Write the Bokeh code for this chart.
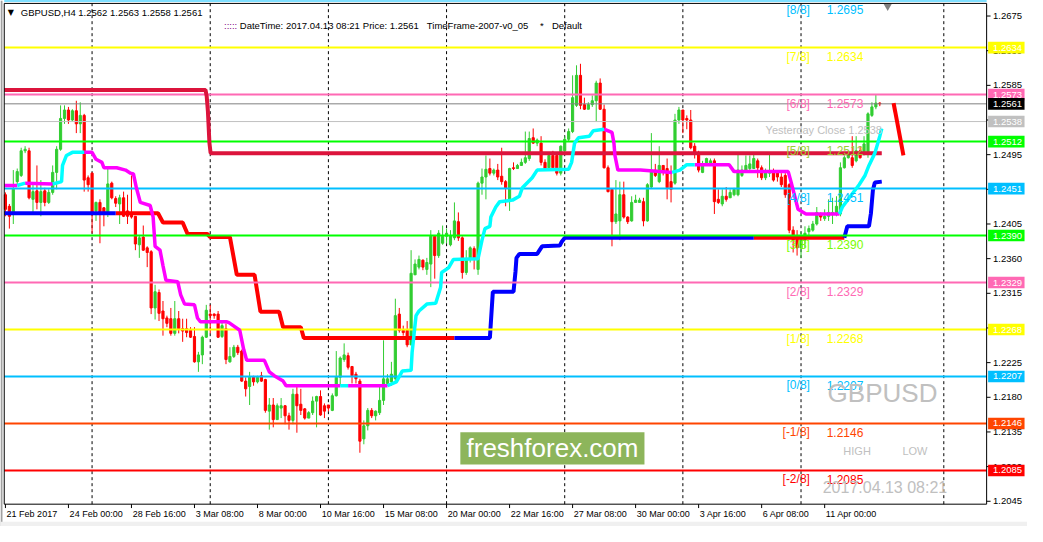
from bokeh.plotting import figure
from bokeh.models import Range1d
from bokeh.core.properties import value
from bokeh.embed import file_html
from bokeh.resources import INLINE

# ---------------- data (H4 bars, 21 Feb 2017 08:00 .. 13 Apr 2017 08:00) ----------------
bar_open = [
 1.2443,1.2428,1.2418,1.2460,1.2468,1.2500,1.2500,1.2437,1.2448,1.2433,
 1.2448,1.2433,1.2446,1.2472,1.2502,1.2542,1.2553,1.2540,1.2552,1.2535,
 1.2546,1.2465,1.2471,1.2422,1.2433,1.2426,1.2420,1.2458,1.2438,1.2431,
 1.2439,1.2422,1.2420,1.2415,1.2378,1.2388,1.2374,1.2369,1.2296,1.2316,
 1.2292,1.2283,1.2282,1.2263,1.2282,1.2269,1.2269,1.2267,1.2259,1.2226,
 1.2235,1.2258,1.2288,1.2288,1.2288,1.2259,1.2269,1.2226,1.2233,1.2245,
 1.2240,1.2201,1.2194,1.2206,1.2200,1.2208,1.2203,1.2162,1.2170,1.2151,
 1.2166,1.2169,1.2156,1.2150,1.2184,1.2171,1.2165,1.2153,1.2160,1.2175,
 1.2181,1.2169,1.2170,1.2163,1.2182,1.2206,1.2229,1.2234,1.2220,1.2210,
 1.2201,1.2126,1.2143,1.2163,1.2156,1.2160,1.2176,1.2198,1.2200,1.2204,
 1.2288,1.2267,1.2267,1.2248,1.2339,1.2349,1.2358,1.2346,1.2353,1.2389,
 1.2364,1.2380,1.2389,1.2378,1.2387,1.2408,1.2387,1.2342,1.2359,1.2373,
 1.2346,1.2458,1.2466,1.2477,1.2471,1.2475,1.2467,1.2460,1.2437,1.2478,
 1.2477,1.2481,1.2485,1.2490,1.2517,1.2510,1.2510,1.2485,1.2478,1.2494,
 1.2494,1.2471,1.2500,1.2515,1.2525,1.2559,1.2598,1.2560,1.2554,1.2560,
 1.2565,1.2588,1.2554,1.2478,1.2450,1.2408,1.2409,1.2443,1.2414,1.2409,
 1.2433,1.2433,1.2434,1.2409,1.2453,1.2475,1.2460,1.2481,1.2477,1.2460,
 1.2458,1.2540,1.2553,1.2542,1.2540,1.2506,1.2497,1.2472,1.2483,1.2483,
 1.2487,1.2437,1.2431,1.2441,1.2439,1.2443,1.2443,1.2468,1.2475,1.2477,
 1.2477,1.2487,1.2478,1.2465,1.2471,1.2473,1.2472,1.2466,1.2468,1.2456,
 1.2397,1.2387,1.2374,1.2384,1.2395,1.2397,1.2405,1.2418,1.2412,1.2415,
 1.2418,1.2418,1.2418,1.2478,1.2491,1.2491,1.2487,1.2500,1.2496,1.2496,
 1.2546,1.2557,1.2562]
bar_high = [
 1.2446,1.2431,1.2475,1.2477,1.2504,1.2506,1.2504,1.2456,1.2481,1.2462,
 1.2452,1.2450,1.2481,1.2506,1.2559,1.2559,1.2557,1.2554,1.2565,1.2563,
 1.2548,1.2468,1.2472,1.2434,1.2437,1.2427,1.2477,1.2460,1.2441,1.2443,
 1.2447,1.2443,1.2468,1.2415,1.2390,1.2403,1.2376,1.2371,1.2326,1.2320,
 1.2305,1.2286,1.2296,1.2305,1.2292,1.2282,1.2282,1.2271,1.2271,1.2239,
 1.2260,1.2300,1.2300,1.2289,1.2292,1.2277,1.2276,1.2245,1.2248,1.2248,
 1.2242,1.2206,1.2213,1.2208,1.2208,1.2213,1.2204,1.2179,1.2179,1.2172,
 1.2179,1.2170,1.2160,1.2191,1.2194,1.2191,1.2166,1.2162,1.2181,1.2182,
 1.2189,1.2172,1.2170,1.2185,1.2240,1.2233,1.2250,1.2238,1.2220,1.2213,
 1.2204,1.2150,1.2166,1.2166,1.2163,1.2195,1.2254,1.2210,1.2226,1.2308,
 1.2296,1.2273,1.2279,1.2371,1.2359,1.2364,1.2359,1.2361,1.2397,1.2390,
 1.2397,1.2403,1.2399,1.2397,1.2433,1.2420,1.2389,1.2371,1.2376,1.2376,
 1.2460,1.2477,1.2494,1.2490,1.2477,1.2483,1.2504,1.2462,1.2478,1.2485,
 1.2483,1.2490,1.2525,1.2525,1.2529,1.2516,1.2519,1.2489,1.2497,1.2500,
 1.2496,1.2507,1.2519,1.2529,1.2598,1.2611,1.2613,1.2569,1.2563,1.2572,
 1.2591,1.2594,1.2560,1.2481,1.2450,1.2462,1.2460,1.2460,1.2415,1.2441,
 1.2443,1.2439,1.2439,1.2458,1.2523,1.2483,1.2506,1.2481,1.2490,1.2481,
 1.2548,1.2557,1.2553,1.2546,1.2553,1.2510,1.2500,1.2487,1.2491,1.2490,
 1.2490,1.2450,1.2450,1.2453,1.2450,1.2452,1.2496,1.2481,1.2494,1.2494,
 1.2496,1.2490,1.2481,1.2477,1.2496,1.2477,1.2475,1.2471,1.2471,1.2458,
 1.2402,1.2397,1.2395,1.2402,1.2403,1.2409,1.2427,1.2420,1.2424,1.2437,
 1.2439,1.2441,1.2485,1.2494,1.2500,1.2519,1.2519,1.2506,1.2519,1.2550,
 1.2563,1.2573,1.2563]
bar_low = [
 1.2415,1.2399,1.2405,1.2456,1.2466,1.2497,1.2437,1.2420,1.2424,1.2415,
 1.2428,1.2431,1.2443,1.2450,1.2500,1.2535,1.2535,1.2538,1.2523,1.2523,
 1.2447,1.2447,1.2393,1.2409,1.2380,1.2402,1.2414,1.2437,1.2427,1.2405,
 1.2414,1.2405,1.2412,1.2371,1.2361,1.2370,1.2349,1.2288,1.2281,1.2279,
 1.2260,1.2271,1.2260,1.2260,1.2263,1.2252,1.2258,1.2257,1.2225,1.2213,
 1.2223,1.2257,1.2263,1.2282,1.2257,1.2257,1.2223,1.2225,1.2231,1.2235,
 1.2200,1.2181,1.2170,1.2195,1.2198,1.2200,1.2160,1.2138,1.2141,1.2151,
 1.2153,1.2145,1.2138,1.2145,1.2134,1.2157,1.2151,1.2153,1.2157,1.2141,
 1.2156,1.2153,1.2162,1.2162,1.2181,1.2195,1.2226,1.2216,1.2198,1.2198,
 1.2108,1.2119,1.2137,1.2153,1.2150,1.2157,1.2170,1.2195,1.2195,1.2200,
 1.2264,1.2260,1.2245,1.2248,1.2339,1.2346,1.2345,1.2339,1.2323,1.2334,
 1.2361,1.2378,1.2380,1.2376,1.2384,1.2383,1.2334,1.2339,1.2355,1.2346,
 1.2339,1.2443,1.2437,1.2468,1.2468,1.2462,1.2456,1.2428,1.2422,1.2475,
 1.2477,1.2481,1.2483,1.2487,1.2509,1.2506,1.2481,1.2475,1.2477,1.2477,
 1.2468,1.2468,1.2497,1.2512,1.2523,1.2557,1.2554,1.2553,1.2554,1.2557,
 1.2538,1.2553,1.2477,1.2446,1.2376,1.2405,1.2384,1.2412,1.2405,1.2408,
 1.2433,1.2433,1.2402,1.2408,1.2452,1.2466,1.2458,1.2468,1.2437,1.2433,
 1.2456,1.2535,1.2523,1.2528,1.2502,1.2490,1.2472,1.2471,1.2481,1.2481,
 1.2418,1.2431,1.2428,1.2434,1.2439,1.2441,1.2441,1.2466,1.2472,1.2475,
 1.2477,1.2465,1.2462,1.2462,1.2466,1.2460,1.2460,1.2453,1.2439,1.2393,
 1.2368,1.2364,1.2361,1.2374,1.2390,1.2395,1.2403,1.2409,1.2409,1.2409,
 1.2405,1.2415,1.2415,1.2477,1.2490,1.2478,1.2485,1.2490,1.2494,1.2491,
 1.2544,1.2554,1.2558]
bar_close = [
 1.2424,1.2415,1.2450,1.2473,1.2500,1.2502,1.2439,1.2447,1.2433,1.2447,
 1.2433,1.2446,1.2472,1.2502,1.2542,1.2553,1.2540,1.2552,1.2535,1.2546,
 1.2462,1.2456,1.2420,1.2433,1.2420,1.2420,1.2457,1.2439,1.2432,1.2439,
 1.2415,1.2415,1.2414,1.2379,1.2387,1.2371,1.2368,1.2296,1.2317,1.2289,
 1.2282,1.2276,1.2263,1.2282,1.2269,1.2266,1.2264,1.2258,1.2226,1.2235,
 1.2258,1.2293,1.2286,1.2286,1.2258,1.2273,1.2229,1.2233,1.2245,1.2238,
 1.2201,1.2191,1.2206,1.2200,1.2206,1.2201,1.2163,1.2170,1.2151,1.2169,
 1.2169,1.2156,1.2150,1.2184,1.2169,1.2163,1.2153,1.2160,1.2175,1.2181,
 1.2157,1.2162,1.2166,1.2182,1.2206,1.2231,1.2235,1.2219,1.2208,1.2204,
 1.2123,1.2143,1.2163,1.2156,1.2162,1.2176,1.2204,1.2204,1.2210,1.2286,
 1.2267,1.2264,1.2248,1.2341,1.2353,1.2359,1.2349,1.2355,1.2389,1.2364,
 1.2393,1.2389,1.2393,1.2390,1.2409,1.2387,1.2342,1.2359,1.2374,1.2359,
 1.2458,1.2466,1.2476,1.2471,1.2475,1.2466,1.2460,1.2452,1.2477,1.2477,
 1.2481,1.2485,1.2491,1.2516,1.2510,1.2514,1.2485,1.2477,1.2494,1.2478,
 1.2471,1.2506,1.2515,1.2525,1.2569,1.2598,1.2559,1.2554,1.2560,1.2565,
 1.2588,1.2554,1.2478,1.2447,1.2408,1.2418,1.2443,1.2414,1.2408,1.2433,
 1.2436,1.2436,1.2409,1.2456,1.2475,1.2468,1.2481,1.2472,1.2452,1.2450,
 1.2540,1.2553,1.2540,1.2540,1.2504,1.2497,1.2475,1.2483,1.2490,1.2487,
 1.2434,1.2433,1.2441,1.2437,1.2446,1.2450,1.2475,1.2475,1.2481,1.2483,
 1.2490,1.2478,1.2465,1.2472,1.2473,1.2462,1.2466,1.2456,1.2443,1.2397,
 1.2384,1.2374,1.2387,1.2393,1.2399,1.2405,1.2420,1.2414,1.2415,1.2420,
 1.2420,1.2428,1.2478,1.2491,1.2497,1.2481,1.2500,1.2491,1.2509,1.2548,
 1.2557,1.2562,1.2561]

date_ticks = [0, 16, 32, 48, 64, 80, 96, 112, 128, 144, 160, 176, 192, 208]
date_labels = ["21 Feb 2017", "24 Feb 00:00", "28 Feb 16:00", "3 Mar 08:00", "8 Mar 00:00",
               "10 Mar 16:00", "15 Mar 08:00", "20 Mar 00:00", "22 Mar 16:00", "27 Mar 08:00",
               "30 Mar 00:00", "3 Apr 16:00", "6 Apr 08:00", "11 Apr 00:00"]
price_ticks = [1.2675, 1.2630, 1.2585, 1.2540, 1.2495, 1.2450, 1.2405, 1.2360, 1.2315,
               1.2270, 1.2225, 1.2180, 1.2135, 1.2090, 1.2045]
week_starts = [22, 52, 82, 112, 142, 172, 202, 238.25]

murrey_names = ["[8/8]", "[7/8]", "[6/8]", "[5/8]", "[4/8]", "[3/8]", "[2/8]", "[1/8]",
                "[0/8]", "[-1/8]", "[-2/8]"]
murrey_levels = [1.2695, 1.2634, 1.2573, 1.2512, 1.2451, 1.2390, 1.2329, 1.2268,
                 1.2207, 1.2146, 1.2085]
murrey_colors = ["#00BFFF", "#FFFF00", "#FF69B4", "#00FF00", "#00BFFF", "#00FF00",
                 "#FF69B4", "#FFFF00", "#00BFFF", "#FF4500", "#FF0000"]
murrey_text_colors = ["#00BFFF", "#FFFF00", "#FF69B4", "#9ACD32", "#00BFFF", "#7CFC00",
                      "#FF69B4", "#FFFF00", "#00BFFF", "#FF4500", "#FF0000"]

current_price = 1.2561
yesterday_close = 1.2538

box_prices = [1.2634, 1.2573, 1.2561, 1.2538, 1.2512, 1.2451, 1.2390, 1.2329, 1.2268,
              1.2207, 1.2146, 1.2085]
box_colors = ["#FFFF00", "#FF69B4", "#000000", "#C0C0C0", "#00FF00", "#00BFFF", "#00FF00",
              "#FF69B4", "#FFFF00", "#00BFFF", "#FF4500", "#FF0000"]

# step indicator lines (bar index, price)
crimson_x = [-0.3, 50.8, 51.1, 51.4, 51.8, 52.1, 222.5]
crimson_y = [1.2579, 1.2579, 1.2571, 1.2552, 1.2510, 1.2497, 1.2497]

red_xs = [[28, 38.75, 40, 45, 46.25, 51.25, 52, 57, 58.75, 63.25, 64.75, 69.5, 70.5, 75, 75.75, 114],
          [190, 213]]
red_ys = [[1.2419, 1.2419, 1.2407, 1.2407, 1.2392, 1.2392, 1.2388, 1.2388, 1.2339, 1.2339,
           1.2291, 1.2291, 1.2271, 1.2271, 1.2257, 1.2257],
          [1.2387, 1.2387]]
blue_xs = [[-0.3, 28],
           [114, 123, 123.75, 129, 129.5, 129.75, 130.5, 135, 135.5, 136.25, 140.75, 141.25, 142, 190],
           [213, 213.75, 219.25, 219.75, 220.25, 220.75, 222.5]]
blue_ys = [[1.2419, 1.2419],
           [1.2257, 1.2257, 1.2317, 1.2317, 1.2343, 1.2361, 1.2366, 1.2366, 1.2370, 1.2376,
            1.2377, 1.2382, 1.2387, 1.2387],
           [1.2387, 1.2402, 1.2402, 1.2419, 1.2449, 1.2459, 1.2460]]

magenta_xs = [
    [-0.25, 3],
    [5, 12],
    [20, 22, 23, 24.5, 25, 28.25, 30.5, 31.75, 32.5, 33.25, 34.25, 36.75, 37.5, 38, 39.25, 40,
     40.75, 43.75, 44.5, 45.5, 48, 48.75, 49.5, 56.25, 56.75, 59.5, 60.5, 61.25, 65.75, 67,
     68.25, 70.5, 71.25, 85],
    [87, 97],
    [152, 154, 154.5, 154.75, 155.5, 161.25, 169.25],
    [175, 183.75, 185, 198.75, 199.5, 200.5, 201.25, 203.25, 211.75]]
magenta_ys = [
    [1.2455, 1.2455],
    [1.2458, 1.2457],
    [1.2498, 1.2498, 1.2489, 1.2485, 1.2478, 1.2478, 1.2475, 1.2471, 1.2470, 1.2452, 1.2433,
     1.2429, 1.2414, 1.2376, 1.2371, 1.2351, 1.2332, 1.2330, 1.2313, 1.2301, 1.2300, 1.2283,
     1.2278, 1.2278, 1.2277, 1.2267, 1.2242, 1.2228, 1.2228, 1.2213, 1.2208, 1.2201, 1.2195,
     1.2195],
    [1.2195, 1.2195],
    [1.2528, 1.2524, 1.2510, 1.2494, 1.2475, 1.2475, 1.2472],
    [1.2482, 1.2482, 1.2473, 1.2473, 1.2459, 1.2439, 1.2424, 1.2418, 1.2418]]
cyan_xs = [
    [3, 5],
    [12, 14.25, 14.5, 15.5, 17, 20],
    [85, 87],
    [97, 99.25, 100.75, 103, 103.25, 104.25, 105, 107, 109.25, 110.5, 110.75, 112.5, 113.75,
     120, 121, 121.75, 123, 123.25, 124.5, 125.5, 128.75, 130.5, 131.25, 133.75, 135, 143,
     143.75, 144.5, 145.5, 148.25, 149.25, 152],
    [169.25, 171.25, 173, 175],
    [211.75, 212.5, 214.25, 216.75, 218.25, 219.25, 220.75, 222, 222.5]]
cyan_ys = [
    [1.2455, 1.2458],
    [1.2457, 1.2460, 1.2481, 1.2494, 1.2498, 1.2498],
    [1.2195, 1.2195],
    [1.2195, 1.2200, 1.2214, 1.2215, 1.2238, 1.2286, 1.2292, 1.2301, 1.2302, 1.2323, 1.2342,
     1.2348, 1.2359, 1.2360, 1.2384, 1.2399, 1.2402, 1.2414, 1.2427, 1.2434, 1.2436, 1.2441,
     1.2452, 1.2465, 1.2475, 1.2476, 1.2485, 1.2510, 1.2517, 1.2519, 1.2526, 1.2528],
    [1.2472, 1.2475, 1.2482, 1.2482],
    [1.2418, 1.2427, 1.2439, 1.2456, 1.2468, 1.2481, 1.2497, 1.2519, 1.2529]]

forecast_x = [225.5, 228.0]
forecast_y = [1.2562, 1.2494]

# ---------------- figure: one frame over the whole canvas (bar index x price) ----------------
FONT = "Liberation Sans"
X0, X1 = -1.25, 259.5                 # whole canvas in bar units
Y0, Y1 = 1.201224, 1.269516           # whole canvas in price units
PX = (Y1 - Y0) / 542.0                # price per reference pixel
F_LEFT, F_RIGHT = -0.3, 249.125       # chart frame in bar units
F_TOP, F_BOT = Y1 - 3 * PX, Y1 - 519 * PX

p = figure(width=1027, height=526, x_range=Range1d(X0, X1), y_range=Range1d(Y0, Y1),
           x_axis_location=None, y_axis_location=None, toolbar_location=None, output_backend="svg",
           min_border=0, background_fill_color="white", border_fill_color="white",
           outline_line_color=None)
p.xgrid.visible = False
p.ygrid.visible = False

# window chrome
p.quad(left=[X0], right=[X0 + 0.5], bottom=[Y0], top=[Y1], fill_color="#A0A0A0", line_color=None)
p.quad(left=[X0], right=[X1], bottom=[Y0], top=[Y0 + 5 * PX], fill_color="#F0F0F0", line_color=None)

# weekly separators
nw = len(week_starts)
p.segment(x0=week_starts, x1=week_starts, y0=[F_BOT] * nw, y1=[F_TOP] * nw,
          line_color="black", line_dash="3 3", line_width=1)

# candles
xs = list(range(len(bar_close)))
cols = ["#32CD32" if c >= o else "#FF0000" for o, c in zip(bar_open, bar_close)]
tops = [max(o, c) for o, c in zip(bar_open, bar_close)]
bots = [min(o, c) for o, c in zip(bar_open, bar_close)]
p.segment(x0=xs, x1=xs, y0=bar_high, y1=bar_low, line_color=cols, line_width=1)
p.vbar(x=xs, width=0.55, top=tops, bottom=bots, fill_color=cols, line_color=cols, line_width=1)

# support step lines (under the levels)
p.multi_line(red_xs, red_ys, line_color="#FF0000", line_width=4)
p.multi_line(blue_xs, blue_ys, line_color="#0000FF", line_width=4)

# murrey level lines
nl = len(murrey_levels)
p.segment(x0=[F_LEFT] * nl, x1=[F_RIGHT] * nl, y0=murrey_levels, y1=murrey_levels,
          line_color=murrey_colors, line_width=2)
p.segment(x0=[F_LEFT, F_LEFT], x1=[F_RIGHT, F_RIGHT], y0=[current_price, yesterday_close],
          y1=[current_price, yesterday_close], line_color=["#808080", "#C0C0C0"], line_width=1)

# indicator lines
p.line(crimson_x, crimson_y, line_color="#DC143C", line_width=4)
p.multi_line(magenta_xs, magenta_ys, line_color="#FF00FF", line_width=3.5)
p.multi_line(cyan_xs, cyan_ys, line_color="#00FFFF", line_width=3.5)
p.line(forecast_x, forecast_y, line_color="#FF0000", line_width=4)

# murrey labels
p.text(x=[204.25] * nl, y=murrey_levels, text=murrey_names, text_align="right", text_baseline="middle",
       y_offset=9, text_color=murrey_text_colors, text_font=value(FONT), text_font_size="12px")
p.text(x=[208.5] * nl, y=murrey_levels, text=[f"{v:.4f}" for v in murrey_levels], text_align="left",
       text_baseline="middle", y_offset=9, text_color=murrey_text_colors, text_font=value(FONT),
       text_font_size="12px")
p.text(x=[193], y=[yesterday_close], text=[f"Yesterday Close {yesterday_close:.4f}"], text_align="left",
       text_baseline="middle", y_offset=8, text_color="#C0C0C0", text_font=value(FONT), text_font_size="11px")

# corner texts
p.text(x=[208.75], y=[Y1 - 404 * PX], text=["GBPUSD"], text_baseline="middle", text_color="#C0C0C0",
       text_font=value(FONT), text_font_size="26px")
p.text(x=[212.75, 227.75], y=[Y1 - 464 * PX] * 2, text=["HIGH", "LOW"], text_baseline="middle",
       text_color="#C0C0C0", text_font=value(FONT), text_font_size="11px")
p.text(x=[207.5], y=[Y1 - 502 * PX], text=["2017.04.13 08:21"], text_baseline="middle",
       text_color="#C0C0C0", text_font=value(FONT), text_font_size="16px")

# watermark
p.quad(left=[115.5], right=[162.25], bottom=[Y1 - 478 * PX], top=[Y1 - 445 * PX],
       fill_color="#8DB55B", line_color=None)
p.text(x=[138.9], y=[Y1 - 461.5 * PX], text=["freshforex.com"], text_align="center", text_baseline="middle",
       text_color="white", text_font=value(FONT), text_font_size="26px")

# header texts
o, h, l, c = bar_open[-1], bar_high[-1], bar_low[-1], bar_close[-1]
p.text(x=[0.6], y=[Y1 - 12 * PX], text=["▼"], text_baseline="middle", text_color="black",
       text_font=value("DejaVu Sans"), text_font_size="8px")
p.text(x=[3.9], y=[Y1 - 12 * PX], text=[f"GBPUSD,H4  {o:.4f} {h:.4f} {l:.4f} {c:.4f}"],
       text_baseline="middle", text_color="black", text_font=value(FONT), text_font_size="9.5px")
p.text(x=[55.5], y=[Y1 - 26 * PX], text=[":::::"], text_baseline="middle", text_color="#800080",
       text_font=value(FONT), text_font_size="9.5px")
p.text(x=[59.5, 90.75, 107, 135.75, 138.75], y=[Y1 - 26 * PX] * 5,
       text=["DateTime: 2017.04.13 08:21", f"Price: {c:.4f}", "TimeFrame-2007-v0_05", "*", "Default"],
       text_baseline="middle", text_color="black", text_font=value(FONT), text_font_size="9.5px")
p.scatter(x=[224], y=[Y1 - 6 * PX], marker="inverted_triangle", size=8, fill_color="#808080", line_color=None)

# chart frame
p.quad(left=[F_LEFT], right=[F_RIGHT], bottom=[F_BOT], top=[F_TOP], fill_color=None,
       line_color="black", line_width=1)

# price scale (right)
npt = len(price_ticks)
p.segment(x0=[F_RIGHT] * npt, x1=[F_RIGHT + 1.0] * npt, y0=price_ticks, y1=price_ticks,
          line_color="black", line_width=1)
p.text(x=[250.75] * npt, y=price_ticks, text=[f"{v:.4f}" for v in price_ticks], text_align="left",
       text_baseline="middle", text_color="black", text_font=value(FONT), text_font_size="9.5px")
nb = len(box_prices)
p.quad(left=[249.5] * nb, right=[258.75] * nb, top=[v + 6 * PX for v in box_prices],
       bottom=[v - 6 * PX for v in box_prices], fill_color=box_colors, line_color=None)
p.text(x=[250.75] * nb, y=box_prices, text=[f"{v:.4f}" for v in box_prices], text_align="left",
       text_baseline="middle", text_color="white", text_font=value(FONT), text_font_size="9.5px")

# time scale (bottom)
nd = len(date_ticks)
p.segment(x0=date_ticks, x1=date_ticks, y0=[F_BOT] * nd, y1=[F_BOT - 4 * PX] * nd,
          line_color="black", line_width=1)
p.text(x=[t + 0.3 for t in date_ticks], y=[F_BOT - 10.5 * PX] * nd, text=date_labels, text_align="left",
       text_baseline="middle", text_color="black", text_font=value(FONT), text_font_size="9px")

open("out.html", "w").write(file_html(p, INLINE))
